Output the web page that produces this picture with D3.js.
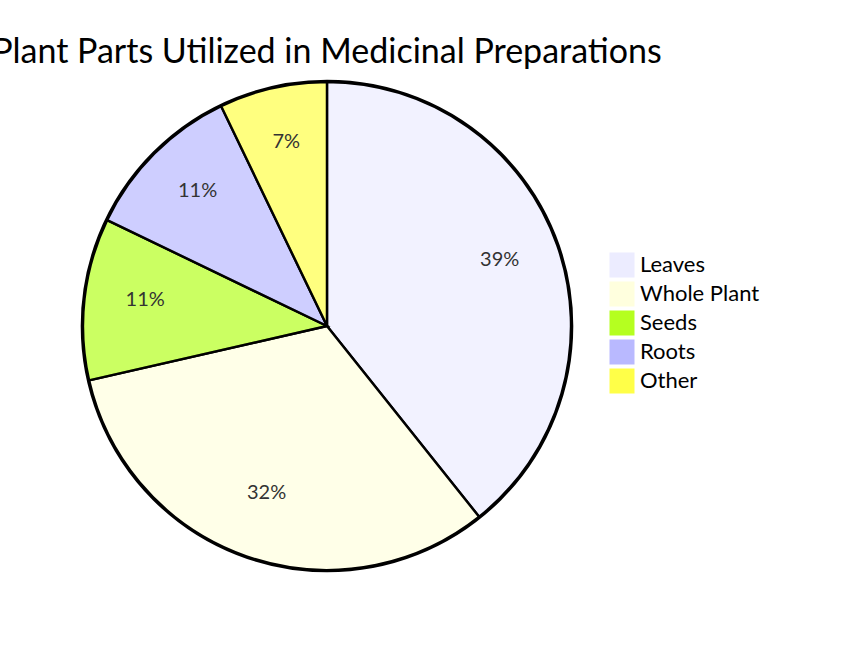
<!DOCTYPE html>
<html>
<head>
<meta charset="utf-8">
<script src="https://cdn.jsdelivr.net/npm/d3@7"></script>
<style>
  html, body { margin: 0; padding: 0; background: #fff; }
  svg text { font-family: "Trebuchet MS", Lato, sans-serif; }
</style>
</head>
<body>
<div id="chart"></div>
<script>
const title = "Plant Parts Utilized in Medicinal Preparations";
const categories = ["Leaves", "Whole Plant", "Seeds", "Roots", "Other"];
const values = [11, 9, 3, 3, 2];
const colors = ["#ececff", "#ffffde", "#b5ff20", "#b9b9ff", "#ffff48"];

const width = 856, height = 652;
const cx = 327, cy = 326, radius = 244;

const svg = d3.select("#chart").append("svg")
  .attr("width", width)
  .attr("height", height);

const data = categories.map((c, i) => ({ label: c, value: values[i], color: colors[i] }));
const total = d3.sum(values);

const pie = d3.pie().sort(null).value(d => d.value);
const arc = d3.arc().innerRadius(0).outerRadius(radius);
const labelArc = d3.arc().innerRadius(radius * 0.75).outerRadius(radius * 0.75);

const g = svg.append("g").attr("transform", `translate(${cx},${cy})`);

g.append("circle")
  .attr("r", radius + 1)
  .attr("fill", "none")
  .attr("stroke", "#000")
  .attr("stroke-width", 2.6);

g.selectAll("path.slice")
  .data(pie(data))
  .join("path")
  .attr("class", "slice")
  .attr("d", arc)
  .attr("fill", d => d.data.color)
  .attr("fill-opacity", 0.7)
  .attr("stroke", "#000")
  .attr("stroke-width", 2.4);

g.selectAll("text.pct")
  .data(pie(data))
  .join("text")
  .attr("class", "pct")
  .attr("transform", d => `translate(${labelArc.centroid(d)})`)
  .attr("text-anchor", "middle")
  .style("font-size", "20px")
  .style("fill", "#333")
  .text(d => Math.round(d.data.value / total * 100) + "%");

svg.append("text")
  .attr("x", cx)
  .attr("y", 63)
  .attr("text-anchor", "middle")
  .style("font-size", "34px")
  .style("fill", "#000")
  .text(title);

const legend = svg.append("g").attr("transform", "translate(610,253)");
const item = legend.selectAll("g")
  .data(data)
  .join("g")
  .attr("transform", (d, i) => `translate(0,${i * 29})`);

item.append("rect")
  .attr("width", 24)
  .attr("height", 24)
  .attr("fill", d => d.color)
  .attr("stroke", d => d.color);

item.append("text")
  .attr("x", 30)
  .attr("y", 19)
  .style("font-size", "22px")
  .style("fill", "#000")
  .text(d => d.label);
</script>
</body>
</html>
